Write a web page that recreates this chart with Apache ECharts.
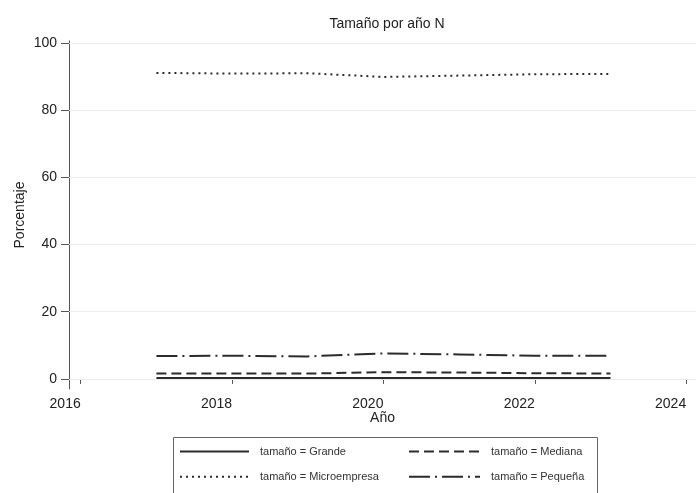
<!DOCTYPE html>
<html>
<head>
<meta charset="utf-8">
<script src="https://cdn.jsdelivr.net/npm/echarts@6/dist/echarts.min.js"></script>
<style>
html, body { margin: 0; padding: 0; background: #fff; }
#chart { width: 696px; height: 493px; }
</style>
</head>
<body>
<div id="chart"></div>
<script>
// datos
var years = [2017, 2018, 2019, 2020, 2021, 2022, 2023];
var grande = [0.3, 0.3, 0.3, 0.3, 0.3, 0.3, 0.3];
var mediana = [1.6, 1.6, 1.6, 2.0, 1.9, 1.7, 1.6];
var micro = [91.1, 90.9, 91.0, 89.9, 90.3, 90.7, 90.8];
var pequena = [6.8, 6.9, 6.7, 7.6, 7.3, 6.9, 6.9];
var xTicks = [2016, 2018, 2020, 2022, 2024];
var yTicks = [0, 20, 40, 60, 80, 100];

var font = "'Liberation Sans', Arial, sans-serif";
var ink = '#2b2b2b';

function pairs(vals) {
    var out = [];
    for (var i = 0; i < years.length; i++) {
        out.push([years[i], vals[i]]);
    }
    return out;
}

function lineSeries(name, vals, dash) {
    return {
        name: name,
        type: 'line',
        data: pairs(vals),
        symbol: 'none',
        showSymbol: false,
        z: 3,
        lineStyle: { color: ink, width: 2, type: dash, cap: 'butt' },
        itemStyle: { color: ink }
    };
}

function legendCol(left, width, names) {
    return {
        orient: 'vertical',
        left: left,
        top: 446,
        padding: 0,
        itemWidth: width,
        itemHeight: 14,
        itemGap: 14,
        data: names,
        itemStyle: { color: 'transparent', borderWidth: 0, opacity: 0 },
        textStyle: { fontFamily: font, fontSize: 11, color: '#333', padding: [0, 0, 0, 6] }
    };
}

var gridLines = [];
for (var k = 0; k < yTicks.length; k++) gridLines.push({ yAxis: yTicks[k] });

var myChart = echarts.init(document.getElementById('chart'));
var option = {
    animation: false,
    backgroundColor: '#fff',
    title: {
        text: 'Tamaño por año N',
        left: 382,
        textAlign: 'center',
        top: 12,
        textStyle: { fontFamily: font, fontSize: 14, fontWeight: 'normal', color: '#222' }
    },
    grid: { left: 69, right: 0, top: 41, bottom: 104 },
    legend: [
        legendCol(179, 69, ['tamaño = Grande', 'tamaño = Microempresa']),
        legendCol(408, 71, ['tamaño = Mediana', 'tamaño = Pequeña'])
    ],
    graphic: [{
        type: 'rect',
        left: 171,
        top: 435,
        shape: { width: 424, height: 70 },
        style: { fill: 'none', stroke: '#666', lineWidth: 1 },
        silent: true
    }],
    xAxis: {
        type: 'value',
        min: 2015.845,
        max: 2024.13,
        name: 'Año',
        nameLocation: 'middle',
        nameGap: 22,
        nameMoveOverlap: false,
        nameTextStyle: { fontFamily: font, fontSize: 14, color: '#222' },
        axisLine: { lineStyle: { color: '#555', width: 1 } },
        axisTick: { show: true, length: 5, customValues: xTicks, lineStyle: { color: '#555' } },
        axisLabel: {
            customValues: xTicks,
            align: 'right',
            margin: 8,
            fontFamily: font,
            fontSize: 14,
            color: '#222',
            formatter: function (v) { return String(v); }
        },
        splitLine: { show: false }
    },
    yAxis: {
        type: 'value',
        min: -3,
        max: 100.6,
        name: 'Porcentaje',
        nameLocation: 'middle',
        nameGap: 42,
        nameMoveOverlap: false,
        nameTextStyle: { fontFamily: font, fontSize: 14, color: '#222' },
        axisLine: { show: true, lineStyle: { color: '#555', width: 1 } },
        axisTick: { show: true, length: 8, customValues: yTicks, lineStyle: { color: '#555' } },
        axisLabel: {
            customValues: yTicks,
            margin: 12,
            fontFamily: font,
            fontSize: 14,
            color: '#222'
        },
        splitLine: { show: false }
    },
    series: [
        {
            name: 'grid',
            type: 'line',
            data: [],
            z: 1,
            silent: true,
            markLine: {
                silent: true,
                symbol: 'none',
                label: { show: false },
                lineStyle: { color: '#ececec', width: 1, type: 'solid' },
                data: gridLines
            }
        },
        lineSeries('tamaño = Grande', grande, 'solid'),
        lineSeries('tamaño = Mediana', mediana, [10, 5]),
        lineSeries('tamaño = Microempresa', micro, [2, 4]),
        lineSeries('tamaño = Pequeña', pequena, [21, 5, 2, 5])
    ]
};
option && myChart.setOption(option);
</script>
</body>
</html>
